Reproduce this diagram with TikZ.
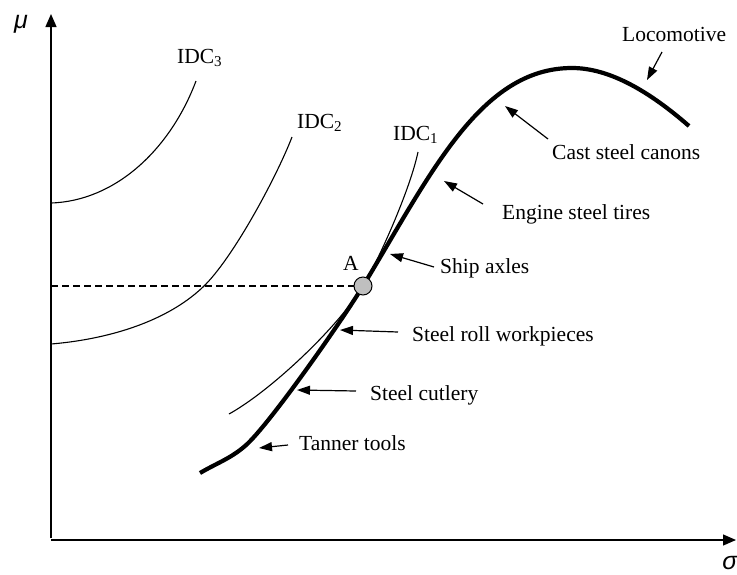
\documentclass[tikz,border=0pt]{standalone}
\usepackage{fontspec}
\setmainfont{Liberation Serif}
\newfontfamily\axfont{Liberation Sans}
\usetikzlibrary{arrows.meta}
\begin{document}
\begin{tikzpicture}[x=1pt,y=-1pt,
  lbl/.style={anchor=base west,inner sep=0pt,font=\fontsize{21.5}{25}\selectfont},
  axlbl/.style={inner sep=0pt,font=\fontsize{25}{28}\selectfont\axfont\itshape},
  axisline/.style={line width=1.3pt,-{Triangle[length=13pt,width=11pt]}},
  thin/.style={line width=1.1pt},
  thick/.style={line width=4.2pt},
  arr/.style={line width=1.2pt,-{Triangle[length=13pt,width=9pt]}},
  pt/.style={circle,draw=black,fill=black!25,line width=1pt,minimum size=18pt,inner sep=0pt}]
\useasboundingbox (0,0) rectangle (737,574);
% axes
\coordinate (O) at (51,540);
\coordinate (ybot) at (51,538);
\coordinate (ytop) at (51,14);
\coordinate (xend) at (736,540);
\draw[axisline] (ybot) -- (ytop);
\draw[axisline] (O) -- (xend);
\node[axlbl] (mu) at (21,24) {μ};
\node[axlbl] (sigma) at (730,563) {σ};
% indifference curves
\draw[thin] (51,203) .. controls (115,201) and (170,150) .. (196,81);
\draw[thin] (51,344) .. controls (100,340) and (163,325) .. (203,287)
                     .. controls (233,258.5) and (277,176) .. (292,137);
\draw[thin] (229,414) .. controls (269,392) and (337,328.8) .. (363,286)
                      .. controls (378.5,260.4) and (410,190) .. (418,152);
% main curve
\draw[thick] (200,473) .. controls (216,463.5) and (230.5,458.6) .. (245,446)
  .. controls (267.9,426.6) and (342.3,320.2) .. (363,286)
  .. controls (430.3,174.9) and (480,68) .. (572,68)
  .. controls (610,68) and (650,92) .. (689,126);
% point A and dashed line
\node[pt] (A) at (363,286) {};
\draw[line width=1.1pt,dash pattern=on 7pt off 4pt] (O |- A) -- (A.west);
\node[lbl] (Alab) at (343,270) {A};
% IDC labels
\node[lbl] (idc3) at (177,63) {IDC\textsubscript{3}};
\node[lbl] (idc2) at (297,128) {IDC\textsubscript{2}};
\node[lbl] (idc1) at (393,140) {IDC\textsubscript{1}};
% labels
\node[lbl] (loco) at (622,41) {Locomotive};
\node[lbl] (cast) at (552,159) {Cast steel canons};
\node[lbl] (eng) at (502,219) {Engine steel tires};
\node[lbl] (ship) at (440,273) {Ship axles};
\node[lbl] (roll) at (412,341) {Steel roll workpieces};
\node[lbl] (cut) at (370,400) {Steel cutlery};
\node[lbl] (tan) at (299,450) {Tanner tools};
% arrows
\coordinate (lt) at (662,52);  \coordinate (lh) at (647,80);
\coordinate (ct) at (548,139); \coordinate (ch) at (505,106);
\coordinate (et) at (483,204); \coordinate (eh) at (444,181);
\coordinate (st) at (434,267); \coordinate (sh) at (390,254);
\coordinate (rt) at (398,332); \coordinate (rh) at (340,330);
\coordinate (kt) at (356,391); \coordinate (kh) at (297,390);
\coordinate (tt) at (288,445); \coordinate (th) at (259,448);
\draw[arr] (lt) -- (lh);
\draw[arr] (ct) -- (ch);
\draw[arr] (et) -- (eh);
\draw[arr] (st) -- (sh);
\draw[arr] (rt) -- (rh);
\draw[arr] (kt) -- (kh);
\draw[arr] (tt) -- (th);
\end{tikzpicture}
\end{document}
